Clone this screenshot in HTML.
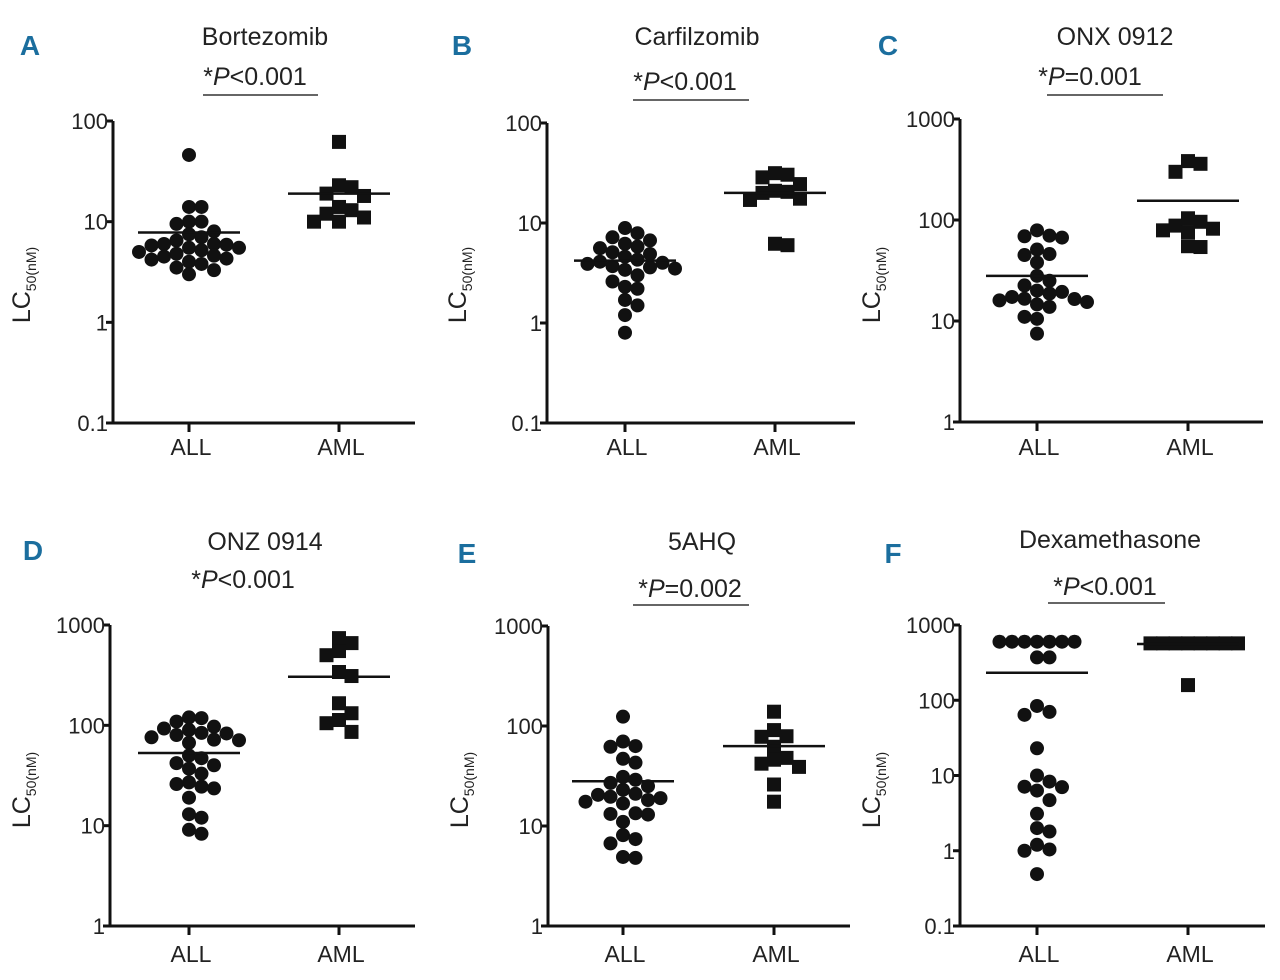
<!DOCTYPE html>
<html><head><meta charset="utf-8">
<style>
html,body{margin:0;padding:0;background:#fff;}
svg{display:block;font-family:"Liberation Sans Narrow","Liberation Sans",sans-serif;}
</style></head>
<body>
<svg id="fig" width="1280" height="980" viewBox="0 0 1280 980"></svg>
<script>
// ---- data ----
const categories = ["ALL", "AML"];
const panelLetters = ["A","B","C","D","E","F"];
const panelTitles = ["Bortezomib","Carfilzomib","ONX 0912","ONZ 0914","5AHQ","Dexamethasone"];
const pTexts = ["<0.001","<0.001","=0.001","<0.001","=0.002","<0.001"];
const tickLabelsA = ["0.1","1","10","100"];
const tickLabelsC = ["1","10","100","1000"];
const tickLabelsF = ["0.1","1","10","100","1000"];
const allA = [46,14,14,10,10,9.5,8,7.5,7,6.5,6,6,5.9,5.8,5.5,5.5,5.2,5,4.8,4.6,4.5,4.3,4.2,4,3.8,3.5,3.3,3];
const amlA = [62,23,22,19,18,14,13,12,11,10,10];
const meanA = [7.8,19];
const allB = [8.9,7.9,7.2,6.7,6.2,5.8,5.6,5.1,4.9,4.6,4.3,4.1,4,3.9,3.7,3.6,3.5,3.4,3,2.6,2.3,2.2,1.7,1.5,1.2,0.8];
const amlB = [31.5,30.4,28.6,24.5,21,20.5,20,17.5,17,6.2,6];
const meanB = [4.2,20];
const allC = [79,70,69,67,51,46,45,38,28,25,22.5,20,19.4,18.7,17.3,16.6,16.5,16,15.4,14.6,13.8,11,10.5,7.5];
const amlC = [383,360,300,104,96,88,82,79,76,55,54];
const meanC = [28,155];
const allD = [120,118,109,97,93,90,84,83,80,76,72,71,67,50,47,42,40,37,33,27,26,24.5,23.5,19,13,12,9.1,8.3];
const amlD = [740,660,550,500,340,310,166,132,113,105,86];
const meanD = [53,305];
const allE = [124,70,63,62,47,43,31,29,27,25,23,21,20.5,19.6,19,18.2,17.5,16.8,13.4,13.2,13,11,8.1,7.4,6.7,4.9,4.8];
const amlE = [139,91,79,78,62,48,46,42,39,26,17.5];
const meanE = [28,63];
const allF = [600,600,600,600,600,600,600,371,371,84,70,64,23,10,8.3,7.1,7,6.3,4.7,3.1,2,1.8,1.2,1.04,1,0.49];
const amlF = [570,570,570,570,570,570,570,570,159];
const meanF = [232,560];

// ---- layout (geometry only) ----
const panels = [
 {ax:113, top:121, bot:423, lo:-1, hi:2, x0:189, x1:339, xe:415, ticks:tickLabelsA, all:allA, aml:amlA, mean:meanA,
  letter:[30,55], title:[265,45], p:[255,85], pl:[95,203,318], ylab:[30,285], cat:455},
 {ax:547, top:123, bot:423, lo:-1, hi:2, x0:625, x1:775, xe:855, ticks:tickLabelsA, all:allB, aml:amlB, mean:meanB,
  letter:[462,55], title:[697,45], p:[685,90], pl:[100,633,749], ylab:[466,285], cat:455},
 {ax:960, top:119, bot:422, lo:0, hi:3, x0:1037, x1:1188, xe:1263, ticks:tickLabelsC, all:allC, aml:amlC, mean:meanC,
  letter:[888,55], title:[1115,45], p:[1090,85], pl:[95,1047,1163], ylab:[880,285], cat:455},
 {ax:110, top:625, bot:926, lo:0, hi:3, x0:189, x1:339, xe:415, ticks:tickLabelsC, all:allD, aml:amlD, mean:meanD,
  letter:[33,560], title:[265,550], p:[243,588], pl:null, ylab:[30,790], cat:962},
 {ax:548, top:626, bot:926, lo:0, hi:3, x0:623, x1:774, xe:850, ticks:tickLabelsC, all:allE, aml:amlE, mean:meanE,
  letter:[467,563], title:[702,550], p:[690,597], pl:[605,633,749], ylab:[468,790], cat:962},
 {ax:960, top:625, bot:926, lo:-1, hi:3, x0:1037, x1:1188, xe:1265, ticks:tickLabelsF, all:allF, aml:amlF, mean:meanF,
  letter:[893,563], title:[1110,548], p:[1105,595], pl:[603,1048,1165], ylab:[880,790], cat:962}
];

const NS = "http://www.w3.org/2000/svg";
const svg = document.getElementById("fig");
function mk(tag, attrs, parent){
  const e = document.createElementNS(NS, tag);
  for (const k in attrs) e.setAttribute(k, attrs[k]);
  (parent||svg).appendChild(e);
  return e;
}

function swarm(vals, yf, cx, D, step, maxLane){
  const placed = [];
  const order = vals.map((v,i)=>i).sort((a,b)=>vals[b]-vals[a]);
  const out = new Array(vals.length);
  for (const i of order){
    const y = yf(vals[i]);
    let best = null, bestD = -1;
    for (let k=0;k<=maxLane*2;k++){
      const off = (k===0)?0:(k%2? 1:-1)*Math.ceil(k/2)*step;
      const x = cx+off;
      let md = 1e9;
      for (const p of placed){ md = Math.min(md, Math.hypot(p[0]-x,p[1]-y)); }
      if (md >= D){ best=[x,y]; break; }
      if (md > bestD){ bestD = md; best=[x,y]; }
    }
    placed.push(best); out[i]=best;
  }
  return out;
}

panels.forEach((P, pi) => {
  const g = mk("g", {});
  
  
  const yScale = v => P.bot - (Math.log10(v) - P.lo) / (P.hi - P.lo) * (P.bot - P.top);

  const L = mk("text", {x:P.letter[0], y:P.letter[1], "text-anchor":"middle", "font-size":28, "font-weight":"bold", fill:"#1b6e9e"}, g);
  L.textContent = panelLetters[pi];
  
  
  const T = mk("text", {x:P.title[0], y:P.title[1], "text-anchor":"middle", "font-size":25, fill:"#222"}, g);
  T.textContent = panelTitles[pi];
  
  
  const Pt = mk("text", {x:P.p[0], y:P.p[1], "text-anchor":"middle", "font-size":25, fill:"#222"}, g);
  Pt.appendChild(document.createTextNode("*"));
  const it = mk("tspan", {"font-style":"italic"}, Pt); it.textContent = "P";
  Pt.appendChild(document.createTextNode(pTexts[pi]));
  
  
  if (P.pl){
    const bl = mk("line", {x1:P.pl[1], x2:P.pl[2], y1:P.pl[0], y2:P.pl[0], stroke:"#333", "stroke-width":1.5}, g);
    
    
  }
  const ya = mk("line", {x1:P.ax, x2:P.ax, y1:P.top, y2:P.bot+1.5, stroke:"#111", "stroke-width":3}, g);
  
  
  const xa = mk("line", {x1:P.ax-1.5, x2:P.xe, y1:P.bot, y2:P.bot, stroke:"#111", "stroke-width":3}, g);
  
  
  P.ticks.forEach((lab, ti) => {
    const y = yScale(Math.pow(10, P.lo + ti));
    mk("line", {x1:P.ax-7, x2:P.ax, y1:y, y2:y, stroke:"#111", "stroke-width":3}, g);
    const t = mk("text", {x:P.ax-5, y:y+8, "text-anchor":"end", "font-size":22, fill:"#222"}, g);
    t.textContent = lab;
    
    
  });
  [P.x0, P.x1].forEach((cx, ci) => {
    mk("line", {x1:cx, x2:cx, y1:P.bot, y2:P.bot+9, stroke:"#111", "stroke-width":3}, g);
    const t = mk("text", {x:cx+2, y:P.cat, "text-anchor":"middle", "font-size":23, fill:"#222"}, g);
    t.textContent = categories[ci];
    
    
  });
  const yl = mk("text", {x:0, y:0, "text-anchor":"middle", "font-size":25, fill:"#222",
    transform:`translate(${P.ylab[0]},${P.ylab[1]}) rotate(-90)`}, g);
  yl.appendChild(document.createTextNode("LC"));
  const sub = mk("tspan", {"font-size":14, dy:6}, yl); sub.textContent = "50(nM)";
  
  

  swarm(P.all, yScale, P.x0, 12.5, 12.5, 4).forEach(([x,y]) => {
    const c = mk("circle", {cx:x, cy:y, r:7, fill:"#111"}, g);
    
    
  });
  swarm(P.aml, yScale, P.x1, 12.5, 12.5, 4).forEach(([x,y]) => {
    const r = mk("rect", {x:x-7, y:y-7, width:14, height:14, fill:"#111"}, g);
    
    
  });
  [P.x0, P.x1].forEach((cx, ci) => {
    const y = yScale(P.mean[ci]);
    const m = mk("line", {x1:cx-51, x2:cx+51, y1:y, y2:y, stroke:"#111", "stroke-width":2.5}, g);
    
    
  });
});
</script>
</body></html>
